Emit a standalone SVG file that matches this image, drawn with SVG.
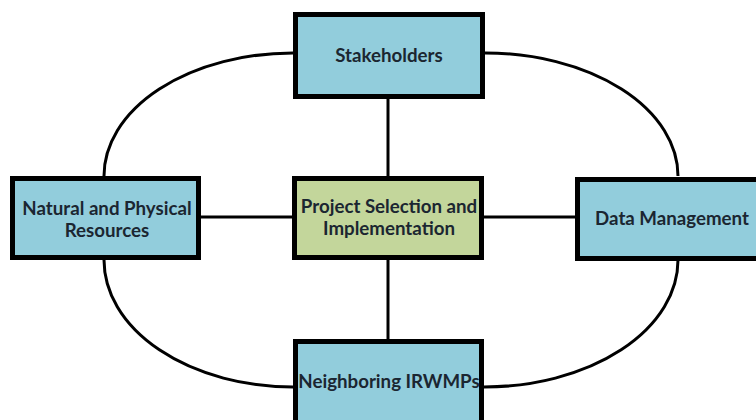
<svg xmlns="http://www.w3.org/2000/svg" width="756" height="420" viewBox="0 0 756 420">
<style>
.box{stroke:#000;stroke-width:5}
.blue{fill:#92CDDC}
.green{fill:#C3D69B}
.lbl{font-family:Lato,"Open Sans","Liberation Sans",sans-serif;font-weight:bold;font-size:18.7px;fill:#1b2631;text-anchor:middle}
.conn path,.conn line{stroke:#000;stroke-width:3;fill:none}
</style>
<rect width="756" height="420" fill="#fff"/>
<g id="connectors" class="conn">
<line x1="388" y1="99" x2="388" y2="176"/>
<line x1="388" y1="260" x2="388" y2="339"/>
<line x1="201" y1="217" x2="292" y2="217"/>
<line x1="484" y1="217" x2="575" y2="217"/>
<path d="M293,53 A189,123 0 0 0 104,176"/>
<path d="M485,53 A193,123 0 0 1 678,176"/>
<path d="M104,260 A189,127 0 0 0 293,387"/>
<path d="M678,260 A194,127 0 0 1 484,387"/>
</g>
<g id="stakeholders">
<rect class="box blue" x="295.5" y="14.5" width="187" height="82"/>
<text class="lbl" x="389" y="62">Stakeholders</text>
</g>
<g id="natural">
<rect class="box blue" x="12.5" y="178.5" width="186" height="79"/>
<text class="lbl" x="107" y="215">Natural and Physical</text>
<text class="lbl" x="107" y="237">Resources</text>
</g>
<g id="project">
<rect class="box green" x="294.5" y="178.5" width="187" height="79"/>
<text class="lbl" x="389" y="213">Project Selection and</text>
<text class="lbl" x="389" y="235">Implementation</text>
</g>
<g id="data">
<rect class="box blue" x="577.5" y="179.5" width="190" height="79"/>
<text class="lbl" x="672" y="225">Data Management</text>
</g>
<g id="neighboring">
<rect class="box blue" x="295.5" y="341.5" width="186" height="100"/>
<text class="lbl" x="389" y="388">Neighboring IRWMPs</text>
</g>
</svg>
